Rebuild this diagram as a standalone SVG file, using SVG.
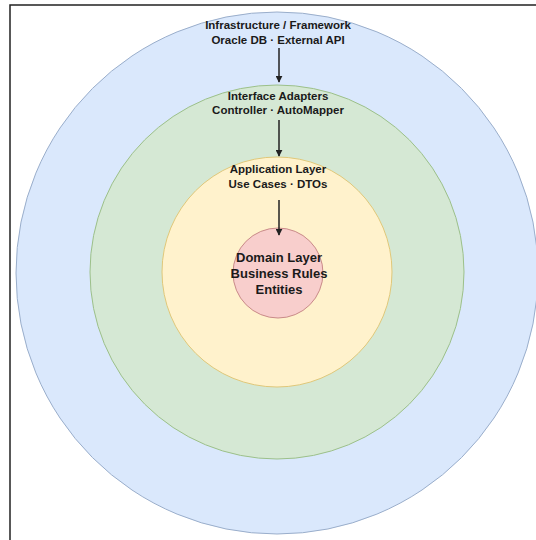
<svg xmlns="http://www.w3.org/2000/svg" width="536" height="540" viewBox="0 0 536 540">
  <style>
    .lbl { font-family: "Liberation Sans", Arial, sans-serif; font-weight: bold; font-size: 11.5px; fill: #1a1a1a; text-anchor: middle; }
    .core { font-size: 13px; }
    .conn { stroke: #222; stroke-width: 1.5; fill: none; }
  </style>
  <defs>
    <marker id="arrow" viewBox="0 0 10 10" refX="9" refY="5" markerWidth="7" markerHeight="7" orient="auto" markerUnits="userSpaceOnUse">
      <path d="M0,0 L10,5 L0,10 z" fill="#222"/>
    </marker>
  </defs>
  <rect width="536" height="540" fill="#ffffff"/>
  <path d="M10,540 V5 H536" fill="none" stroke="#222" stroke-width="1.5"/>

  <g id="infrastructure">
    <circle cx="277" cy="273" r="261" fill="#dae8fc" stroke="#9aaecb" stroke-width="1"/>
    <text class="lbl" x="278" y="29">Infrastructure / Framework</text>
    <text class="lbl" x="278" y="43.5">Oracle DB · External API</text>
  </g>
  <g id="adapters">
    <circle cx="277" cy="272" r="187" fill="#d5e8d4" stroke="#9cc08a" stroke-width="1"/>
    <text class="lbl" x="278" y="100">Interface Adapters</text>
    <text class="lbl" x="278" y="114">Controller · AutoMapper</text>
  </g>
  <g id="application">
    <circle cx="277" cy="272" r="115" fill="#fff2cc" stroke="#e0c87a" stroke-width="1"/>
    <text class="lbl" x="278" y="173">Application Layer</text>
    <text class="lbl" x="278" y="188">Use Cases · DTOs</text>
  </g>
  <g id="domain">
    <circle cx="278" cy="273" r="45" fill="#f8cecc" stroke="#c98a88" stroke-width="1"/>
    <text class="lbl core" x="279" y="262">Domain Layer</text>
    <text class="lbl core" x="279" y="278">Business Rules</text>
    <text class="lbl core" x="279" y="294">Entities</text>
  </g>

  <g id="connectors">
    <line class="conn" x1="279" y1="48" x2="279" y2="82" marker-end="url(#arrow)"/>
    <line class="conn" x1="279" y1="120" x2="279" y2="156" marker-end="url(#arrow)"/>
    <line class="conn" x1="279" y1="200" x2="279" y2="235" marker-end="url(#arrow)"/>
  </g>
</svg>
